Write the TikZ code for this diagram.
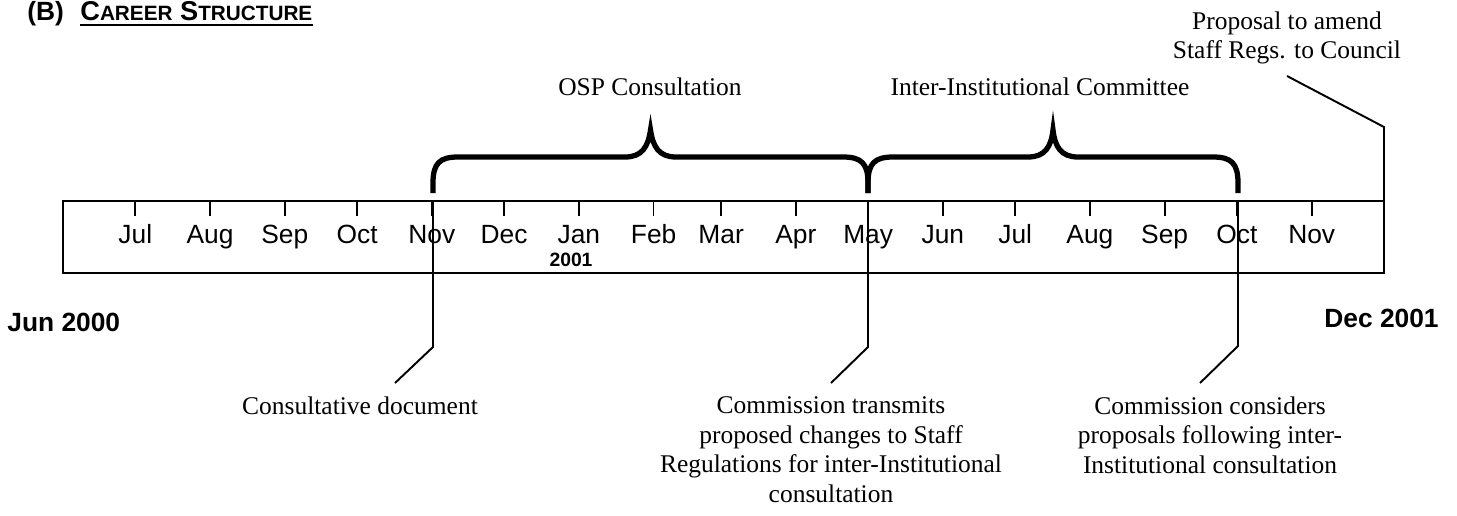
\documentclass[tikz,border=0pt]{standalone}
\usepackage{fontspec}
\setmainfont{Liberation Serif}
\newfontfamily\arialfont{Liberation Sans}
\usetikzlibrary{positioning,calc}

\tikzset{
  month/.style={font=\arialfont\fontsize{15}{17}\selectfont,anchor=base,inner sep=0pt},
  yearlbl/.style={font=\arialfont\bfseries\fontsize{15}{17}\selectfont,anchor=base,inner sep=0pt},
  note/.style={font=\fontsize{14.5}{17}\selectfont,align=center,anchor=north,inner sep=0pt},
  brace/.style={line width=3pt,line join=miter},
  marker/.style={line width=1.1pt},
  tick/.style={line width=1pt}
}

\begin{document}
\begin{tikzpicture}[x=0.02cm,y=-0.02cm]
  \useasboundingbox (0,0) rectangle (1457,515);
  % heading
  \node[font=\arialfont\bfseries\fontsize{15}{17}\selectfont,anchor=base west,inner sep=0pt] (sect) at (27,20) {(B)};
  \node[font=\arialfont\bfseries\fontsize{15.5}{17}\selectfont,anchor=base west,inner sep=0pt] (title) at (80,20)
    {C{\fontsize{11.8}{14}\selectfont AREER} S{\fontsize{11.8}{14}\selectfont TRUCTURE}};
  \draw[line width=1.2pt] ($(title.base west)+(0,5)$) -- ($(title.base east)+(0,5)$);
  % time bar, Jun 2000 to Dec 2001, one unit = 2.4106 per day
  \draw[line width=1.4pt] (63,201) rectangle (1384,273);
  \foreach \m/\d in {Jul/30,Aug/61,Sep/92,Oct/122,Nov/153,Dec/183,Jan/214,Feb/245,Mar/273,
                     Apr/304,May/334,Jun/365,Jul/395,Aug/426,Sep/457,Oct/487,Nov/518}{
    \draw[tick] ({63+2.4106*\d},201) -- ++(0,15);
    \node[month] (m\d) at ({63+2.4106*\d},243) {\m};
  }
  \node[font=\arialfont\bfseries\fontsize{11}{13}\selectfont,anchor=base,inner sep=0pt] (yr) at (571,266) {2001};
  \node[yearlbl,anchor=base west] (start) at (7,331) {Jun 2000};
  \node[yearlbl,anchor=base east] (end) at (1439,327) {Dec 2001};
  % milestones
  \coordinate (nov) at (433,201);
  \coordinate (may) at (868,201);
  \coordinate (oct) at (1238,201);
  \coordinate (dec) at (1384,201);
  \coordinate (novk) at (433,347);
  \coordinate (mayk) at (868,347);
  \coordinate (octk) at (1238,346);
  \coordinate (deck) at (1384,127);
  \coordinate (nove) at (395,383);
  \coordinate (maye) at (831,383);
  \coordinate (octe) at (1200,383);
  \coordinate (dece) at (1287,76);
  \draw[marker] (nov) -- (novk) -- (nove);
  \draw[marker] (may) -- (mayk) -- (maye);
  \draw[marker] (oct) -- (octk) -- (octe);
  \draw[marker] (dec) -- (deck) -- (dece);
  \node[note] (cdoc) at (360,396) {Consultative document};
  \node[note] (ctrans) at (831,396) {Commission transmits\\proposed changes to Staff\\Regulations for inter-Institutional\\consultation};
  \node[note] (ccons) at (1210,396) {Commission considers\\proposals following inter-\\Institutional consultation};
  \node[note] (prop) at (1287,11) {Proposal to amend\\Staff Regs. to Council};
  % consultation periods
  \draw[brace] (433,193) -- (433,183) .. controls (433,163) and (440,157) .. (458,157) -- (625,157)
    .. controls (642,157) and (648,147) .. (650.5,130) .. controls (653,147) and (659,157) .. (676,157)
    -- (843,157) .. controls (861,157) and (868,163) .. (868,183) -- (868,193);
  \draw[brace] (868,193) -- (868,183) .. controls (868,163) and (875,157) .. (893,157) -- (1028,157)
    .. controls (1045,157) and (1051,147) .. (1053,130) .. controls (1055,147) and (1061,157) .. (1078,157)
    -- (1213,157) .. controls (1231,157) and (1238,163) .. (1238,183) -- (1238,193);
  \node[note,anchor=base] (osp) at (650,95) {OSP Consultation};
  \node[note,anchor=base] (iic) at (1040,95) {Inter-Institutional Committee};
\end{tikzpicture}
\end{document}
